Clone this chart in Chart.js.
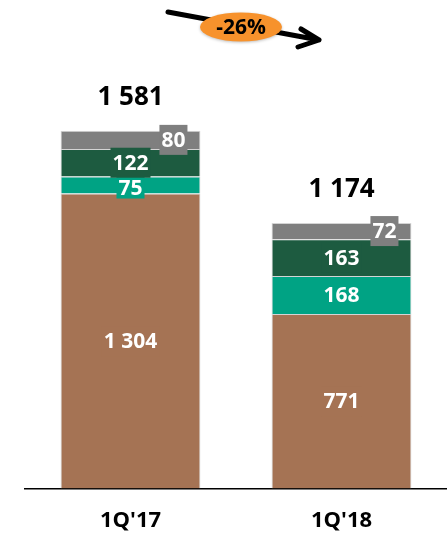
<!DOCTYPE html>
<html>
<head>
<meta charset="utf-8">
<script src="https://cdn.jsdelivr.net/npm/chart.js@4"></script>
<style>
html,body{margin:0;padding:0;background:#fff;}
#wrap{width:447px;height:533px;position:relative;}
</style>
</head>
<body>
<div id="wrap"><canvas id="c" width="447" height="533"></canvas></div>
<script>
const categories = ["1Q'17", "1Q'18"];
const seriesBase = [1304, 771];
const seriesTeal = [75, 168];
const seriesDark = [122, 163];
const seriesGray = [80, 72];
const totals = [1581, 1174];
const changeLabel = "-26%";

const FONT = "'Open Sans', 'Liberation Sans', sans-serif";
const fmt = v => String(v).replace(/\B(?=(\d{3})+(?!\d))/g, " ");

const colors = ["#A57354", "#00A384", "#1D5B40", "#7F7F7F"];

const labelPlugin = {
  id: 'labels',
  afterDatasetsDraw(chart) {
    const ctx = chart.ctx;
    ctx.save();
    ctx.textAlign = 'center';
    ctx.textBaseline = 'middle';
    chart.data.datasets.forEach((ds, di) => {
      const meta = chart.getDatasetMeta(di);
      meta.data.forEach((el, i) => {
        const v = ds.data[i];
        const top = Math.min(el.y, el.base), bot = Math.max(el.y, el.base);
        const h = bot - top;
        const half = el.width / 2;
        ctx.font = "bold 21px " + FONT;
        const tw = ctx.measureText(fmt(v)).width;
        let bw = tw + 4, bh = 30, cx = el.x, cy = (top + bot) / 2;
        if (di === 3) {
          cx = el.x + half - 27;
        } else if (h < 25) {
          bh = 22;
          cy = top + bh / 2;
        }
        ctx.fillStyle = ds.backgroundColor;
        ctx.fillRect(cx - bw / 2, cy - bh / 2, bw, bh);
        ctx.fillStyle = '#ffffff';
        ctx.fillText(fmt(v), cx, cy + 1);
      });
    });
    const lastMeta = chart.getDatasetMeta(chart.data.datasets.length - 1);
    ctx.font = "bold 26px " + FONT;
    ctx.fillStyle = '#000';
    lastMeta.data.forEach((el, i) => {
      ctx.fillText(fmt(totals[i]), el.x, el.y - 33);
    });
    ctx.strokeStyle = '#000';
    ctx.lineWidth = 5;
    ctx.lineCap = 'round';
    ctx.lineJoin = 'round';
    ctx.beginPath();
    ctx.moveTo(168, 12);
    ctx.lineTo(319, 40);
    ctx.moveTo(301, 29);
    ctx.lineTo(319, 40);
    ctx.lineTo(298, 47);
    ctx.stroke();
    ctx.shadowColor = 'rgba(0,0,0,0.25)';
    ctx.shadowBlur = 3;
    ctx.shadowOffsetY = 1;
    ctx.fillStyle = '#F7922C';
    ctx.beginPath();
    ctx.ellipse(241, 27, 41, 14.5, 0, 0, Math.PI * 2);
    ctx.fill();
    ctx.shadowColor = 'transparent';
    ctx.fillStyle = '#000';
    ctx.font = "bold 21px " + FONT;
    ctx.fillText(changeLabel, 241, 28);
    ctx.restore();
  }
};

const mk = (label, data, c) => ({
  label, data, backgroundColor: c, borderColor: '#D4D4D4', borderWidth: 1,
  barPercentage: 0.663, categoryPercentage: 1.0
});

new Chart(document.getElementById('c'), {
  type: 'bar',
  data: {
    labels: categories,
    datasets: [
      mk('Base', seriesBase, colors[0]),
      mk('Teal', seriesTeal, colors[1]),
      mk('Dark', seriesDark, colors[2]),
      mk('Other', seriesGray, colors[3])
    ]
  },
  options: {
    responsive: false,
    animation: false,
    layout: { padding: { top: 36, left: 25, right: 0, bottom: -20 } },
    plugins: { legend: { display: false }, tooltip: { enabled: false } },
    scales: {
      x: {
        stacked: true,
        grid: { display: false, drawTicks: false },
        border: { display: true, color: '#000', width: 1.5 },
        ticks: { color: '#000', padding: 19, font: { family: FONT, size: 22, weight: 'bold' } }
      },
      y: { stacked: true, display: false, min: 0, max: 2000 }
    }
  },
  plugins: [labelPlugin]
});
</script>
</body>
</html>
